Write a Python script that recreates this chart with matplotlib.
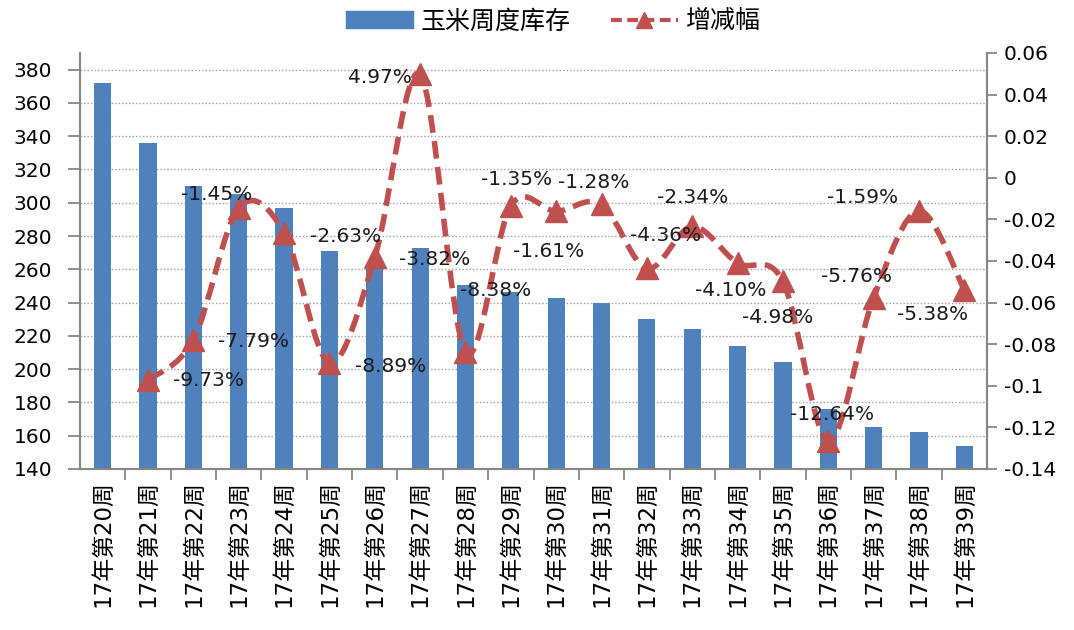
import numpy as np
import matplotlib
matplotlib.use("Agg")
import matplotlib.pyplot as plt
from matplotlib.path import Path
from matplotlib.patches import PathPatch, Rectangle
from matplotlib.lines import Line2D
from matplotlib.ticker import FixedLocator, FuncFormatter

plt.rcParams['font.family'] = ['DejaVu Sans', 'Noto Sans CJK SC']
plt.rcParams['axes.unicode_minus'] = False

categories = ['17年第%d周' % w for w in range(20, 40)]
stock = [372, 336, 310, 305, 297, 271, 261, 273, 250.5, 246.5,
         243, 240, 230, 224, 214, 204.5, 176, 165, 162.5, 154]
change = [-0.0973, -0.0779, -0.0145, -0.0263, -0.0889, -0.0382, 0.0497,
          -0.0838, -0.0135, -0.0161, -0.0128, -0.0436, -0.0234, -0.0410,
          -0.0498, -0.1264, -0.0576, -0.0159, -0.0538]
change_labels = ['%.2f%%' % (v * 100) for v in change]
label_offsets = [(60, 0), (60, -2), (-22, 13), (61, -4), (61, -4), (60, -2),
                 (-40, -3), (30, 62), (6, 26), (-8, -40), (-8, 22), (19, 33),
                 (0, 29), (-7, -27), (-5, -36), (4, 26), (-17, 21), (-56, 13),
                 (-32, -25)]

bar_color = '#4F81BD'
line_color = '#C0504D'
axis_color = '#868686'

fig = plt.figure(figsize=(10.74, 6.30), dpi=100)
ax = fig.add_axes([80 / 1074, 1 - 469 / 630, 907 / 1074, 416 / 630])
ax2 = ax.twinx()

xb = np.arange(len(categories))
ax.bar(xb, stock, width=0.38, color=bar_color, zorder=2)
ax.set_xlim(-0.5, len(categories) - 0.5)
ax.set_ylim(140, 390)
ax.yaxis.set_major_locator(FixedLocator(np.arange(140, 381, 20)))
for yv in np.arange(160, 381, 20):
    ax.axhline(yv, color='#A0A0A0', lw=1.0, ls=(0, (1, 1.5)), zorder=1)

ax.set_xticks(xb)
ax.set_xticklabels(categories, rotation=90, fontsize=16.5,
                   family=['DejaVu Sans', 'Noto Sans CJK SC'])
ax.set_xticks(np.arange(0.5, len(categories) - 0.5, 1), minor=True)
ax.tick_params(axis='x', which='major', length=0, pad=8)
ax.tick_params(axis='x', which='minor', length=8, color=axis_color, width=1.3)
ax.tick_params(axis='y', length=9, color=axis_color, width=1.3, pad=11,
               labelsize=14.5)

for s in ['top']:
    ax.spines[s].set_visible(False)
    ax2.spines[s].set_visible(False)
for s in ['left', 'bottom', 'right']:
    ax.spines[s].set_color(axis_color)
    ax.spines[s].set_linewidth(1.5)
ax2.spines['right'].set_color(axis_color)
ax2.spines['right'].set_linewidth(1.5)
ax2.spines['left'].set_visible(False)
ax2.spines['bottom'].set_visible(False)

ax2.set_ylim(-0.14, 0.06)
ax2.yaxis.set_major_locator(FixedLocator(np.round(np.arange(-0.14, 0.061, 0.02), 2)))
ax2.yaxis.set_major_formatter(FuncFormatter(lambda v, p: '%g' % round(v, 2)))
ax2.tick_params(axis='y', length=7, color=axis_color, width=1.3, pad=5,
                labelsize=14.5)

# smoothed line (Bezier through data points, like Excel smoothing)
xl = np.arange(1, len(categories))
yl = np.array(change)
pts = np.column_stack([xl, yl])
ext = np.vstack([pts[0], pts, pts[-1]])
verts = [tuple(pts[0])]
codes = [Path.MOVETO]
for i in range(len(pts) - 1):
    p0, p1, p2, p3 = ext[i], ext[i + 1], ext[i + 2], ext[i + 3]
    c1 = p1 + (p2 - p0) / 6.0
    c2 = p2 - (p3 - p1) / 6.0
    verts += [tuple(c1), tuple(c2), tuple(p2)]
    codes += [Path.CURVE4] * 3
path = Path(verts, codes)
patch = PathPatch(path, facecolor='none', edgecolor=line_color, lw=4.0,
                  ls=(0, (3.2, 1.5)), transform=ax2.transData, zorder=3,
                  capstyle='butt')
ax2.add_patch(patch)
ax2.plot(xl, yl, ls='none', marker='^', ms=16, color=line_color, zorder=4)

for x, y, t, (dx, dy) in zip(xl, yl, change_labels, label_offsets):
    ax2.annotate(t, (x, y), xytext=(dx, dy), textcoords='offset pixels',
                 ha='center', va='center', fontsize=14.5, color='#1a1a1a',
                 zorder=5)

handles = [Rectangle((0, 0), 1, 1, color=bar_color),
           Line2D([], [], color=line_color, lw=3.0, ls=(0, (2.6, 1.3)),
                  marker='^', ms=11, dash_capstyle='butt')]
fig.legend(handles, ['玉米周度库存', '增减幅'], loc='center',
           bbox_to_anchor=(0.515, 0.966), ncol=2, frameon=False,
           prop={'family': ['Noto Sans CJK SC'], 'size': 18},
           handlelength=2.7, handletextpad=0.3, columnspacing=1.6)

fig.savefig('out.png', dpi=100)
